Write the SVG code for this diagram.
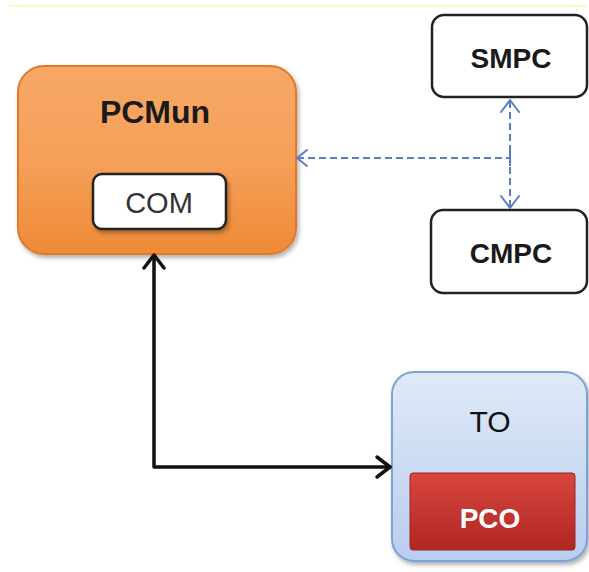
<svg xmlns="http://www.w3.org/2000/svg" width="589" height="572" viewBox="0 0 589 572">
<defs>
<style>
.lbl{font-family:"Liberation Sans",Arial,sans-serif;text-anchor:middle}
.b{font-weight:bold}
.blk{fill:none;stroke:#111;stroke-width:3.5;stroke-linecap:round;stroke-linejoin:round}
.dash{fill:none;stroke:#5b7ec2;stroke-width:2;stroke-dasharray:7 4}
.head{fill:none;stroke:#5b7ec2;stroke-width:2;stroke-linecap:round;stroke-linejoin:round}
</style>
<linearGradient id="gOr" x1="0" y1="0" x2="0" y2="1">
<stop offset="0" stop-color="#f7a865"/>
<stop offset="0.5" stop-color="#f5a05a"/>
<stop offset="1" stop-color="#ef8a36"/>
</linearGradient>
<linearGradient id="gBl" x1="0" y1="0" x2="0" y2="1">
<stop offset="0" stop-color="#dfe9f8"/>
<stop offset="1" stop-color="#b9cdee"/>
</linearGradient>
<linearGradient id="gRd" x1="0" y1="0" x2="0" y2="1">
<stop offset="0" stop-color="#d8463f"/>
<stop offset="1" stop-color="#b02622"/>
</linearGradient>
<filter id="sh" x="-10%" y="-10%" width="125%" height="125%">
<feDropShadow dx="2" dy="3" stdDeviation="2" flood-color="#000" flood-opacity="0.3"/>
</filter>
</defs>
<rect width="589" height="572" fill="#fff"/>
<line x1="9" y1="6" x2="587" y2="6" stroke="#fff6b0" stroke-width="1.5"/>

<g id="PCMun">
<rect x="18" y="66" width="278" height="188" rx="26" fill="url(#gOr)" stroke="#e07a2a" stroke-width="2" filter="url(#sh)"/>
<text class="lbl b" x="155" y="123" font-size="32" fill="#1a1a1a">PCMun</text>
</g>
<g id="COM">
<rect x="93" y="174" width="133" height="55" rx="9" fill="#fff" stroke="#222" stroke-width="2.5" filter="url(#sh)"/>
<text class="lbl" x="159" y="213" font-size="29" fill="#333">COM</text>
</g>
<g id="SMPC">
<rect x="432" y="15" width="155" height="82" rx="12" fill="#fff" stroke="#222" stroke-width="2.5"/>
<text class="lbl b" x="511" y="68" font-size="28" fill="#1a1a1a">SMPC</text>
</g>
<g id="CMPC">
<rect x="431" y="210" width="156" height="83" rx="12" fill="#fff" stroke="#222" stroke-width="2.5"/>
<text class="lbl b" x="511" y="263" font-size="28" fill="#1a1a1a">CMPC</text>
</g>
<g id="TO">
<rect x="392" y="372" width="195" height="189" rx="22" fill="url(#gBl)" stroke="#7fa2d4" stroke-width="2" filter="url(#sh)"/>
<text class="lbl" x="490" y="432" font-size="30" fill="#111">TO</text>
</g>
<g id="PCO">
<rect x="410" y="473" width="165" height="77" rx="3" fill="url(#gRd)" stroke="#a22420" stroke-width="1"/>
<text class="lbl b" x="490" y="528" font-size="28" fill="#fff">PCO</text>
</g>

<g id="connectors">
<path class="dash" d="M297 158 H510"/>
<path class="dash" d="M510 101 V207"/>
<path class="head" d="M307 150 L297 158 L307 166"/>
<path class="head" d="M501 112 L510 100 L519 112"/>
<path class="head" d="M501 196 L510 208 L519 196"/>
<line x1="510" y1="150" x2="510" y2="166" stroke="#5b7ec2" stroke-width="2"/>
<path class="blk" d="M154 256 V467 H390"/>
<path class="blk" d="M144 268 L154 255 L164 268"/>
<path class="blk" d="M377 457 L390 467 L377 477"/>
</g>
</svg>
